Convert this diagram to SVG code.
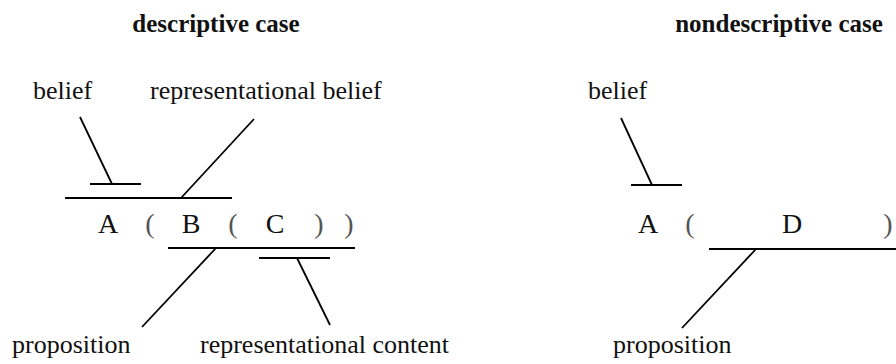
<svg xmlns="http://www.w3.org/2000/svg" width="896" height="364" viewBox="0 0 896 364">
<style>
text { font-family: 'Liberation Serif', 'DejaVu Serif', serif; fill: #111; }
.title { font-size: 25px; font-weight: bold; text-anchor: middle; }
.lbl { font-size: 26px; }
.sym { font-size: 28px; text-anchor: middle; }
.par { font-size: 28px; text-anchor: middle; fill: #555; }
.ln { stroke: #000; stroke-width: 1.8; fill: none; stroke-linecap: butt; }
</style>
<rect width="896" height="364" fill="#fff"/>
<g id="title-descriptive"><text class="title" x="216" y="32">descriptive case</text></g>
<g id="title-nondescriptive"><text class="title" x="779" y="32">nondescriptive case</text></g>
<g id="label-belief-1"><text class="lbl" x="33" y="99">belief</text></g>
<g id="label-repbelief"><text class="lbl" x="150" y="99">representational belief</text></g>
<g id="formula-1">
<text class="sym" x="108" y="233">A</text>
<text class="par" x="150" y="233">(</text>
<text class="sym" x="191" y="233">B</text>
<text class="par" x="233" y="233">(</text>
<text class="sym" x="275" y="233">C</text>
<text class="par" x="319" y="233">)</text>
<text class="par" x="349" y="233">)</text>
</g>
<g id="label-proposition-1"><text class="lbl" x="12" y="353">proposition</text></g>
<g id="label-repcontent"><text class="lbl" x="200" y="353">representational content</text></g>
<g id="label-belief-2"><text class="lbl" x="588" y="99">belief</text></g>
<g id="formula-2">
<text class="sym" x="648" y="233">A</text>
<text class="par" x="690" y="233">(</text>
<text class="sym" x="792" y="233">D</text>
<text class="par" x="888" y="233">)</text>
</g>
<g id="label-proposition-2"><text class="lbl" x="613" y="353">proposition</text></g>
<g id="connectors">
<line class="ln" x1="90" y1="184" x2="141" y2="184"/>
<line class="ln" x1="80" y1="117" x2="112" y2="184"/>
<line class="ln" x1="65" y1="198" x2="232" y2="198"/>
<line class="ln" x1="254" y1="119" x2="181" y2="198"/>
<line class="ln" x1="168" y1="248" x2="355" y2="248"/>
<line class="ln" x1="216" y1="248" x2="142" y2="327"/>
<line class="ln" x1="259" y1="258" x2="330" y2="258"/>
<line class="ln" x1="297" y1="258" x2="330" y2="325"/>
<line class="ln" x1="631" y1="185" x2="682" y2="185"/>
<line class="ln" x1="621" y1="118" x2="652" y2="185"/>
<line class="ln" x1="709" y1="249" x2="896" y2="249"/>
<line class="ln" x1="756" y1="249" x2="682" y2="328"/>
</g>
</svg>
